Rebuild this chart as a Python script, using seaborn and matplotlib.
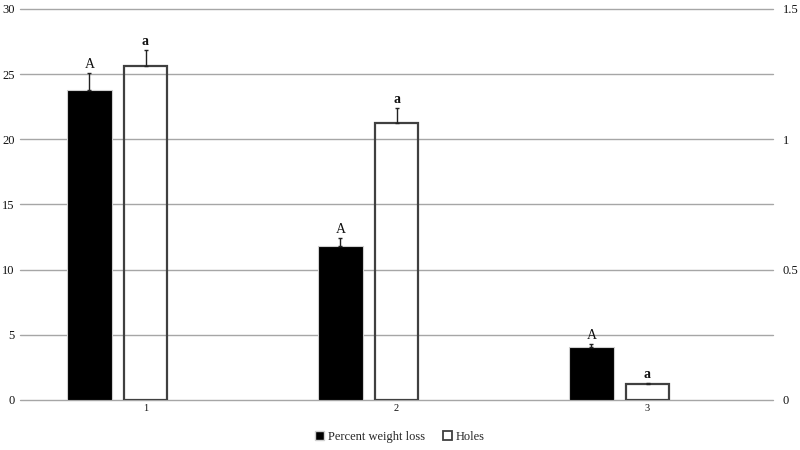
import matplotlib
matplotlib.use("Agg")
import matplotlib.pyplot as plt
from matplotlib.patches import Patch
import seaborn as sns
import pandas as pd
import numpy as np

categories = ["1", "2", "3"]
weight_loss = [23.8, 11.8, 4.1]
weight_err = [1.3, 0.62, 0.2]
holes = [1.281, 1.063, 0.060]
holes_err = [0.062, 0.057, 0.005]
weight_letters = ["A", "A", "A"]
holes_letters = ["a", "a", "a"]
left_ticks = [0, 5, 10, 15, 20, 25, 30]
right_ticks = [0, 0.5, 1, 1.5]
right_ticklabels = ["0", "0.5", "1", "1.5"]

S1 = "Percent weight loss"
S2 = "Holes"
S3 = " "

df = pd.DataFrame({
    "cat": categories * 2,
    "series": [S1] * 3 + [S2] * 3,
    "value": weight_loss + holes,
})

sns.set_theme(style="white")
plt.rcParams["font.family"] = ["Liberation Serif", "DejaVu Serif"]

fig = plt.figure(figsize=(8, 4.5), dpi=100)
ax1 = fig.add_axes([20 / 800, 1 - 400 / 450, 753 / 800, 391 / 450])
ax2 = ax1.twinx()
ax2.patch.set_visible(False)

order3 = [S1, S2, S3]
pal = {S1: "black", S2: "white", S3: "white"}

sns.barplot(data=df[df.series == S1], x="cat", y="value", hue="series",
            hue_order=order3, palette=pal, order=categories, width=0.67,
            gap=0.19, dodge=True, errorbar=None, ax=ax1, legend=False,
            edgecolor="#d0d0d0", linewidth=0.8, zorder=3)
sns.barplot(data=df[df.series == S2], x="cat", y="value", hue="series",
            hue_order=order3, palette=pal, order=categories, width=0.67,
            gap=0.24, dodge=True, errorbar=None, ax=ax2, legend=False,
            edgecolor="#404040", linewidth=1.6, zorder=3)
for p in ax2.patches:
    p.set_facecolor("none")

def annotate(ax, vals, errs, letters):
    bars = [p for p in ax.patches if p.get_height() > 0]
    bars = sorted(bars, key=lambda p: p.get_x())
    xs = [p.get_x() + p.get_width() / 2 for p in bars]
    ax.errorbar(xs, vals, yerr=[np.zeros(len(errs)), errs], fmt="none",
                ecolor="#222222", elinewidth=1.0, capsize=1.5, capthick=1.0,
                zorder=4)
    for x, v, e, t in zip(xs, vals, errs, letters):
        ax.annotate(t, (x, v + e), xytext=(0, 1.5), textcoords="offset points",
                    ha="center", va="bottom", fontsize=10,
                    fontweight="bold" if t.islower() else "normal",
                    color="#111111")

annotate(ax1, weight_loss, weight_err, weight_letters)
annotate(ax2, holes, holes_err, holes_letters)

ax1.set_xlim(-0.5, 2.5)
ax1.set_ylim(0, 30)
ax2.set_ylim(0, 1.5)
ax1.set_yticks(left_ticks)
ax2.set_yticks(right_ticks)
ax2.set_yticklabels(right_ticklabels)
ax1.grid(axis="y", color="#a6a6a6", linewidth=1.0, zorder=0)
for gl in ax1.get_ygridlines():
    gl.set_clip_on(False)
ax1.set_axisbelow(True)
ax2.grid(False)
for ax in (ax1, ax2):
    for s in ax.spines.values():
        s.set_visible(False)
    ax.set_xlabel("")
    ax.set_ylabel("")
ax1.tick_params(axis="y", length=0, pad=4, labelsize=9, labelcolor="#111111")
ax2.tick_params(axis="y", length=0, pad=7, labelsize=9, labelcolor="#111111")
ax1.tick_params(axis="x", length=0, pad=3, labelsize=7.5, labelcolor="#111111")

handles = [Patch(facecolor="black", edgecolor="#d0d0d0", label=S1),
           Patch(facecolor="white", edgecolor="#404040", linewidth=1.3, label=S2)]
fig.legend(handles=handles, loc="center", bbox_to_anchor=(0.5, 1 - 437 / 450),
           ncol=2, frameon=False, fontsize=9, handlelength=0.7,
           handleheight=0.7, handletextpad=0.3, columnspacing=1.5)

fig.savefig("out.png", dpi=100)
